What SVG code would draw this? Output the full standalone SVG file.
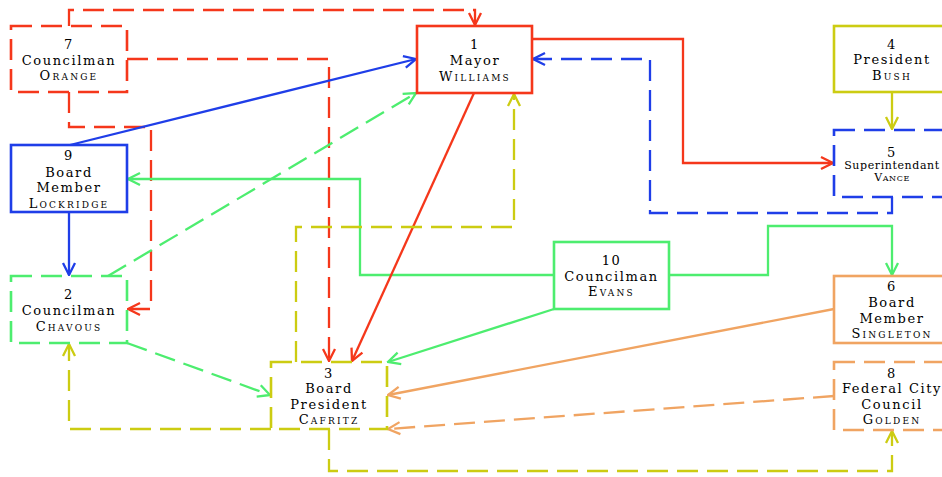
<svg xmlns="http://www.w3.org/2000/svg" width="942" height="477" viewBox="0 0 942 477">
<style>
  .box{fill:#ffffff;stroke-width:2.6}
  .dash{stroke-dasharray:21 9}
  .e{fill:none;stroke-width:2.3}
  .red{stroke:#f5371b}
  .blue{stroke:#1f3ee8}
  .green{stroke:#4ded6f}
  .yellow{stroke:#cccc12}
  .orange{stroke:#f0a462}
  text{font-family:"DejaVu Serif","Liberation Serif",serif;font-size:13px;letter-spacing:1.6px;text-anchor:middle;fill:#000000}
  .sc{font-variant:small-caps;letter-spacing:2.2px}
  .sm{font-size:11px;letter-spacing:0.6px}
</style>
<defs>
  <marker id="aRed" markerUnits="userSpaceOnUse" markerWidth="14" markerHeight="14" refX="12" refY="6" orient="auto" overflow="visible"><path d="M0,0 L12,6 L0,12" fill="none" stroke="#f5371b" stroke-width="2.3"/></marker>
  <marker id="aBlue" markerUnits="userSpaceOnUse" markerWidth="14" markerHeight="14" refX="12" refY="6" orient="auto" overflow="visible"><path d="M0,0 L12,6 L0,12" fill="none" stroke="#1f3ee8" stroke-width="2.3"/></marker>
  <marker id="aGreen" markerUnits="userSpaceOnUse" markerWidth="14" markerHeight="14" refX="12" refY="6" orient="auto" overflow="visible"><path d="M0,0 L12,6 L0,12" fill="none" stroke="#4ded6f" stroke-width="2.3"/></marker>
  <marker id="aYellow" markerUnits="userSpaceOnUse" markerWidth="14" markerHeight="14" refX="12" refY="6" orient="auto" overflow="visible"><path d="M0,0 L12,6 L0,12" fill="none" stroke="#cccc12" stroke-width="2.3"/></marker>
  <marker id="aOrange" markerUnits="userSpaceOnUse" markerWidth="14" markerHeight="14" refX="12" refY="6" orient="auto" overflow="visible"><path d="M0,0 L12,6 L0,12" fill="none" stroke="#f0a462" stroke-width="2.3"/></marker>
</defs>
<g id="connectors">
  <path id="e7-1" class="e red dash" d="M69,26 V10 H475 V25" marker-end="url(#aRed)"/>
  <path id="e7-3" class="e red dash" d="M127,59 H329 V361" marker-end="url(#aRed)"/>
  <path id="e7-2" class="e red dash" d="M69,92 V127 H151 V309 H128" marker-end="url(#aRed)"/>
  <path id="e9-1" class="e blue" d="M70,145 L416,59" marker-end="url(#aBlue)"/>
  <path id="e9-2" class="e blue" d="M69,212 V275" marker-end="url(#aBlue)"/>
  <path id="e10-9" class="e green" d="M554,275 H360 V179 H128" marker-end="url(#aGreen)"/>
  <path id="e10-6" class="e green" d="M669,275 H768 V226 H892 V275" marker-end="url(#aGreen)"/>
  <path id="e10-3" class="e green" d="M554,309 L388,362" marker-end="url(#aGreen)"/>
  <path id="e2-1" class="e green dash" d="M108,276 L416,93" marker-end="url(#aGreen)"/>
  <path id="e2-3" class="e green dash" d="M127,343 L270,395" marker-end="url(#aGreen)"/>
  <path id="e1-3" class="e red" d="M474,93 L352,361" marker-end="url(#aRed)"/>
  <path id="e1-5" class="e red" d="M532,39 H683 V163 H833" marker-end="url(#aRed)"/>
  <path id="e5-1" class="e blue dash" d="M892,197 V213 H650 V59 H533" marker-end="url(#aBlue)"/>
  <path id="e4-5" class="e yellow" d="M892,92 V129" marker-end="url(#aYellow)"/>
  <path id="e3-1" class="e yellow dash" d="M296,362 V227 H514 V94" marker-end="url(#aYellow)"/>
  <path id="e3-2" class="e yellow dash" d="M271,429 H69 V344" marker-end="url(#aYellow)"/>
  <path id="e3-8" class="e yellow dash" d="M329,429 V471 H892 V431" marker-end="url(#aYellow)"/>
  <path id="e6-3" class="e orange" d="M834,309 L388,395" marker-end="url(#aOrange)"/>
  <path id="e8-3" class="e orange dash" d="M834,396 L388,429" marker-end="url(#aOrange)"/>
</g>
<g id="n7">
  <rect class="box red dash" x="11" y="26" width="116" height="66"/>
  <text x="69" y="49">7</text><text x="69" y="64.5">Councilman</text><text class="sc" x="69" y="80">Orange</text>
</g>
<g id="n9">
  <rect class="box blue" x="11" y="145" width="116" height="67"/>
  <text x="69" y="159.5">9</text><text x="69" y="176.5">Board</text><text x="69" y="192.3">Member</text><text class="sc" x="69" y="207.5">Lockridge</text>
</g>
<g id="n2">
  <rect class="box green dash" x="11" y="276" width="116" height="67"/>
  <text x="69" y="299">2</text><text x="69" y="314.5">Councilman</text><text class="sc" x="69" y="330.5">Chavous</text>
</g>
<g id="n1">
  <rect class="box red" x="417" y="26" width="115" height="67"/>
  <text x="475" y="49.3">1</text><text x="475" y="65">Mayor</text><text class="sc" x="475" y="81">Williams</text>
</g>
<g id="n4">
  <rect class="box yellow" x="834" y="26" width="116" height="66"/>
  <text x="892" y="48.5">4</text><text x="892" y="64.3">President</text><text class="sc" x="892" y="80">Bush</text>
</g>
<g id="n5">
  <rect class="box blue dash" x="834" y="130" width="116" height="67"/>
  <text x="892" y="156.7">5</text><text class="sm" x="892" y="169">Superintendant</text><text class="sc sm" x="892" y="181">Vance</text>
</g>
<g id="n10">
  <rect class="box green" x="554" y="242" width="115" height="67"/>
  <text x="611.5" y="265">10</text><text x="611.5" y="281">Councilman</text><text class="sc" x="611.5" y="296">Evans</text>
</g>
<g id="n6">
  <rect class="box orange" x="834" y="276" width="116" height="67"/>
  <text x="892" y="291">6</text><text x="892" y="307.3">Board</text><text x="892" y="322.7">Member</text><text class="sc" x="892" y="337.7">Singleton</text>
</g>
<g id="n3">
  <rect class="box yellow dash" x="271" y="362" width="116" height="67"/>
  <text x="329" y="377.7">3</text><text x="329" y="393.3">Board</text><text x="329" y="409">President</text><text class="sc" x="329" y="424.3">Cafritz</text>
</g>
<g id="n8">
  <rect class="box orange dash" x="834" y="362" width="116" height="68"/>
  <text x="892" y="377.7">8</text><text x="892" y="393.3">Federal City</text><text x="892" y="409">Council</text><text class="sc" x="892" y="424.3">Golden</text>
</g>
</svg>
